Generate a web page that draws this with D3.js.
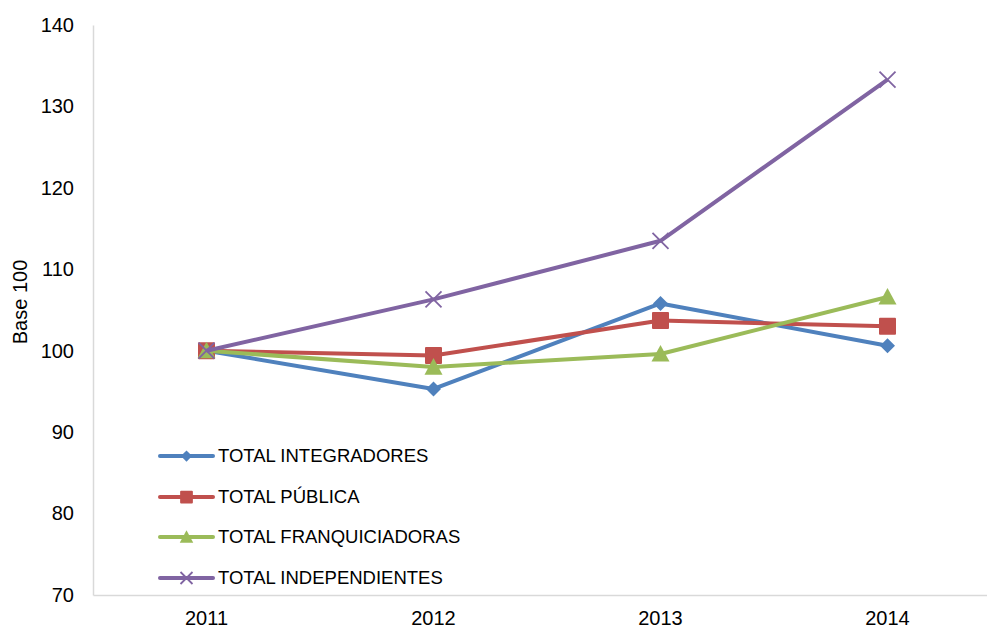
<!DOCTYPE html>
<html>
<head>
<meta charset="utf-8">
<script src="https://cdn.jsdelivr.net/npm/d3@7/dist/d3.min.js"></script>
<style>
  html, body { margin: 0; padding: 0; background: #fff; }
  svg { display: block; font-family: "Liberation Sans", Arial, sans-serif; }
</style>
</head>
<body>
<svg id="chart" width="987" height="628"></svg>
<script>
const categories = ["2011", "2012", "2013", "2014"];
const seriesNames = ["TOTAL INTEGRADORES", "TOTAL PÚBLICA", "TOTAL FRANQUICIADORAS", "TOTAL INDEPENDIENTES"];
const integradores = [100, 95.3, 105.8, 100.6];
const publica = [100, 99.4, 103.7, 103.0];
const franquiciadoras = [100, 98.0, 99.6, 106.6];
const independientes = [100, 106.3, 113.5, 133.3];
const yTicks = [70, 80, 90, 100, 110, 120, 130, 140];
const colors = ["#4F81BD", "#C0504D", "#9BBB59", "#8064A2"];
const markers = ["diamond", "square", "triangle", "x"];

const series = [integradores, publica, franquiciadoras, independientes].map((v, i) => ({
  name: seriesNames[i], values: v, color: colors[i], marker: markers[i]
}));

const svg = d3.select("#chart");
const mLeft = 93, mRight = 1001, mTop = 25, mBottom = 595;
const FS_AXIS = 20;
const FS_LEG = 18.5;

const x = d3.scaleBand().domain(categories).range([mLeft, mRight]);
const y = d3.scaleLinear().domain([70, 140]).range([mBottom, mTop]);

// Y axis
const yAxis = svg.append("g").attr("transform", `translate(${mLeft},0)`)
  .call(d3.axisLeft(y).tickValues(yTicks).tickSize(0).tickPadding(19));
yAxis.attr("font-size", FS_AXIS).attr("font-family", "Liberation Sans, Arial, sans-serif");
yAxis.select(".domain").attr("stroke", "#d9d9d9").attr("stroke-width", 1.5);
yAxis.selectAll("text").attr("fill", "#000");

// X axis
const xAxis = svg.append("g").attr("transform", `translate(0,${mBottom})`)
  .call(d3.axisBottom(x).tickSize(0).tickPadding(16));
xAxis.attr("font-size", FS_AXIS).attr("font-family", "Liberation Sans, Arial, sans-serif");
xAxis.select(".domain").attr("stroke", "#d9d9d9").attr("stroke-width", 1.5);
xAxis.selectAll("text").attr("fill", "#000");

// Y label
svg.append("text")
  .attr("transform", `translate(20,302) rotate(-90)`)
  .attr("text-anchor", "middle")
  .attr("dy", "0.35em")
  .attr("font-size", FS_AXIS)
  .text("Base 100");

function drawMarker(g, type, color, cx, cy, scale) {
  const s = scale || 1;
  if (type === "diamond") {
    const r = 7.5 * s;
    g.append("path").attr("d", `M${cx},${cy - r}L${cx + r},${cy}L${cx},${cy + r}L${cx - r},${cy}Z`).attr("fill", color);
  } else if (type === "square") {
    const h = 8.5 * s;
    g.append("rect").attr("x", cx - h).attr("y", cy - h).attr("width", 2 * h).attr("height", 2 * h)
      .attr("rx", 1).attr("fill", color);
  } else if (type === "triangle") {
    const h = 9 * s;
    g.append("path").attr("d", `M${cx},${cy - h}L${cx + h},${cy + h * 0.85}L${cx - h},${cy + h * 0.85}Z`).attr("fill", color);
  } else if (type === "x") {
    const r = 8 * s;
    g.append("path").attr("d", `M${cx - r},${cy - r}L${cx + r},${cy + r}M${cx - r},${cy + r}L${cx + r},${cy - r}`)
      .attr("stroke", color).attr("stroke-width", 1.8).attr("fill", "none");
  }
}

const line = d3.line().x((d, i) => x(categories[i]) + x.bandwidth() / 2).y(d => y(d));

series.forEach(s => {
  const g = svg.append("g");
  g.append("path").datum(s.values).attr("d", line).attr("fill", "none")
    .attr("stroke", s.color).attr("stroke-width", 4).attr("stroke-linejoin", "round");
  s.values.forEach((v, i) => {
    drawMarker(g, s.marker, s.color, x(categories[i]) + x.bandwidth() / 2, y(v));
  });
});

// Legend
const legendY = [456, 497, 537, 578];
series.forEach((s, i) => {
  const g = svg.append("g");
  g.append("line").attr("x1", 160).attr("x2", 213).attr("y1", legendY[i]).attr("y2", legendY[i])
    .attr("stroke", s.color).attr("stroke-width", 4).attr("stroke-linecap", "round");
  drawMarker(g, s.marker, s.color, 186.5, legendY[i], 0.75);
  g.append("text").attr("x", 218).attr("y", legendY[i]).attr("dy", "0.35em")
    .attr("font-size", FS_LEG).attr("fill", "#000").text(s.name);
});
</script>
</body>
</html>
